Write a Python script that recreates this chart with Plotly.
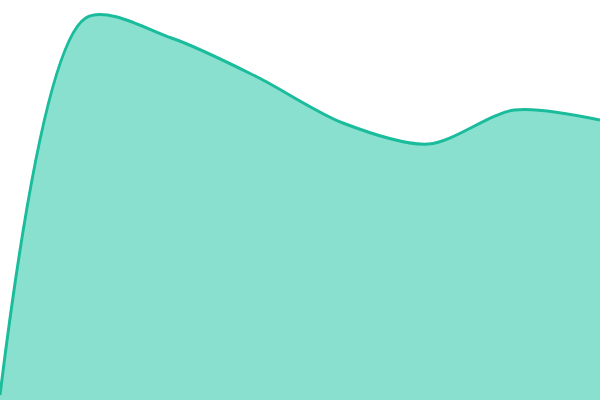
import plotly.graph_objects as go

steps = [0, 1, 2, 3, 4, 5, 6, 7]
values = [5, 382, 362, 323, 277, 256, 290, 280]

fig = go.Figure()
fig.add_trace(go.Scatter(
    x=steps,
    y=values,
    mode="lines",
    line=dict(color="#1abc9c", width=3, shape="spline", smoothing=0.85),
    fill="tozeroy",
    fillcolor="#89e0cf",
    hoverinfo="skip"))

fig.update_layout(width=600, height=400,
                  margin=dict(l=0, r=0, t=0, b=0),
                  paper_bgcolor="white",
                  plot_bgcolor="white",
                  showlegend=False,
                  xaxis=dict(visible=False, range=[0, 7]),
                  yaxis=dict(visible=False, range=[0, 400]))

# drop the browser's default body margin so the chart fills the window
fig.write_html("out.html", config={"displayModeBar": False},
               post_script="document.body.style.margin='0';")
